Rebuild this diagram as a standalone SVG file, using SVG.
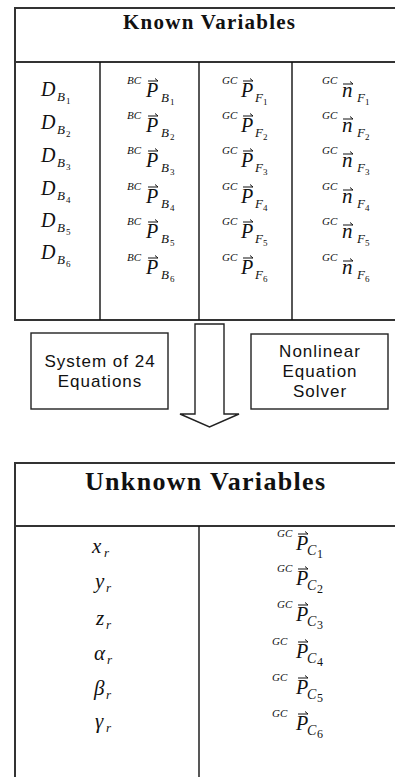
<svg xmlns="http://www.w3.org/2000/svg" xmlns:xlink="http://www.w3.org/1999/xlink" width="395" height="777" viewBox="0 0 395 777">
<style>
.frame{stroke:#333;stroke-width:2;fill:none}
.div{stroke:#111;stroke-width:1.4;fill:none}
.box{stroke:#222;stroke-width:1.4;fill:#fff}
.vec{stroke:#111;stroke-width:1;fill:none}
</style>
<defs>
<path id="vec" class="vec" d="M0,0 H10 M7,-2.5 L10,0"/>
</defs>
<rect x="0" y="0" width="395" height="777" fill="#fff"/>

<g id="known-table">
<path class="frame" d="M395,8 H15 V320 H395 M15,62 H395"/>
<path class="div" d="M100,62 V320 M199,62 V320 M292,62 V320"/>
<text x="123" y="29" font-family="'Liberation Serif', serif" font-weight="bold" font-size="21" fill="#111" textLength="172" lengthAdjust="spacing">Known Variables</text>
</g>

<g id="col-D">
<g transform="scale(0.5)" font-family="'Liberation Serif', serif" font-style="italic" fill="#111">
<g font-size="40"><text x="82" y="192">D</text><text x="82" y="258">D</text><text x="82" y="324">D</text><text x="82" y="390">D</text><text x="82" y="454">D</text><text x="82" y="518">D</text></g>
<g font-size="26"><text x="114" y="202">B</text><text x="114" y="268">B</text><text x="114" y="334">B</text><text x="114" y="400">B</text><text x="114" y="464">B</text><text x="114" y="528">B</text></g>
<g font-size="18" font-style="normal"><text x="132" y="208">1</text><text x="132" y="274">2</text><text x="132" y="340">3</text><text x="132" y="406">4</text><text x="132" y="470">5</text><text x="132" y="534">6</text></g>
</g>
</g>

<g id="col-PB">
<g transform="scale(0.5)" font-family="'Liberation Serif', serif" font-style="italic" fill="#111">
<g font-size="22"><text x="254" y="168">BC</text><text x="254" y="238">BC</text><text x="254" y="308">BC</text><text x="254" y="380">BC</text><text x="254" y="450">BC</text><text x="254" y="522">BC</text></g>
<g font-size="40"><text x="292" y="194">P</text><text x="292" y="264">P</text><text x="292" y="334">P</text><text x="292" y="406">P</text><text x="292" y="476">P</text><text x="292" y="548">P</text></g>
<g font-size="26"><text x="322" y="204">B</text><text x="322" y="274">B</text><text x="322" y="344">B</text><text x="322" y="416">B</text><text x="322" y="486">B</text><text x="322" y="558">B</text></g>
<g font-size="18" font-style="normal"><text x="340" y="210">1</text><text x="340" y="280">2</text><text x="340" y="350">3</text><text x="340" y="422">4</text><text x="340" y="492">5</text><text x="340" y="564">6</text></g>
</g>
<use xlink:href="#vec" x="148" y="81"/><use xlink:href="#vec" x="148" y="116"/><use xlink:href="#vec" x="148" y="151"/><use xlink:href="#vec" x="148" y="187"/><use xlink:href="#vec" x="148" y="222"/><use xlink:href="#vec" x="148" y="258"/>
</g>

<g id="col-PF">
<g transform="scale(0.5)" font-family="'Liberation Serif', serif" font-style="italic" fill="#111">
<g font-size="22"><text x="444" y="168">GC</text><text x="444" y="238">GC</text><text x="444" y="308">GC</text><text x="444" y="380">GC</text><text x="444" y="450">GC</text><text x="444" y="522">GC</text></g>
<g font-size="40"><text x="482" y="194">P</text><text x="482" y="264">P</text><text x="482" y="334">P</text><text x="482" y="406">P</text><text x="482" y="476">P</text><text x="482" y="548">P</text></g>
<g font-size="26"><text x="510" y="204">F</text><text x="510" y="274">F</text><text x="510" y="344">F</text><text x="510" y="416">F</text><text x="510" y="486">F</text><text x="510" y="558">F</text></g>
<g font-size="18" font-style="normal"><text x="526" y="210">1</text><text x="526" y="280">2</text><text x="526" y="350">3</text><text x="526" y="422">4</text><text x="526" y="492">5</text><text x="526" y="564">6</text></g>
</g>
<use xlink:href="#vec" x="243" y="81"/><use xlink:href="#vec" x="243" y="116"/><use xlink:href="#vec" x="243" y="151"/><use xlink:href="#vec" x="243" y="187"/><use xlink:href="#vec" x="243" y="222"/><use xlink:href="#vec" x="243" y="258"/>
</g>

<g id="col-nF">
<g transform="scale(0.5)" font-family="'Liberation Serif', serif" font-style="italic" fill="#111">
<g font-size="22"><text x="644" y="168">GC</text><text x="644" y="238">GC</text><text x="644" y="308">GC</text><text x="644" y="380">GC</text><text x="644" y="450">GC</text><text x="644" y="522">GC</text></g>
<g font-size="42"><text x="684" y="194">n</text><text x="684" y="264">n</text><text x="684" y="334">n</text><text x="684" y="406">n</text><text x="684" y="476">n</text><text x="684" y="548">n</text></g>
<g font-size="26"><text x="714" y="204">F</text><text x="714" y="274">F</text><text x="714" y="344">F</text><text x="714" y="416">F</text><text x="714" y="486">F</text><text x="714" y="558">F</text></g>
<g font-size="18" font-style="normal"><text x="730" y="210">1</text><text x="730" y="280">2</text><text x="730" y="350">3</text><text x="730" y="422">4</text><text x="730" y="492">5</text><text x="730" y="564">6</text></g>
</g>
<use xlink:href="#vec" x="343" y="84"/><use xlink:href="#vec" x="343" y="119"/><use xlink:href="#vec" x="343" y="154"/><use xlink:href="#vec" x="343" y="190"/><use xlink:href="#vec" x="343" y="225"/><use xlink:href="#vec" x="343" y="261"/>
</g>

<g id="system-box">
<rect class="box" x="31" y="333" width="137" height="76"/>
<g font-family="'Liberation Sans', Arial, sans-serif" font-size="17" letter-spacing="1" fill="#111" text-anchor="middle">
<text x="100" y="367">System of 24</text>
<text x="100" y="387">Equations</text>
</g>
</g>

<g id="solver-box">
<rect class="box" x="251" y="334" width="137" height="75"/>
<g font-family="'Liberation Sans', Arial, sans-serif" font-size="17" letter-spacing="1" fill="#111" text-anchor="middle">
<text x="320" y="357">Nonlinear</text>
<text x="320" y="377">Equation</text>
<text x="320" y="397">Solver</text>
</g>
</g>

<g id="connectors">
<path class="box" d="M195,324 H224 V414 H239 L209.5,427 L180,414 H195 Z"/>
</g>

<g id="unknown-table">
<path class="frame" d="M395,463 H15 V777 M15,526 H395"/>
<path class="div" d="M199,526 V777"/>
<text x="85" y="490" font-family="'Liberation Serif', serif" font-weight="bold" font-size="26" fill="#111" textLength="240" lengthAdjust="spacing">Unknown Variables</text>
</g>

<g id="col-pose">
<g transform="scale(0.5)" font-family="'Liberation Serif', serif" font-style="italic" fill="#111">
<g font-size="42"><text x="184" y="1106">x</text><text x="190" y="1176">y</text><text x="192" y="1250">z</text><text x="188" y="1320">α</text><text x="188" y="1390">β</text><text x="190" y="1456">γ</text></g>
<g font-size="26"><text x="208" y="1114">r</text><text x="212" y="1184">r</text><text x="212" y="1258">r</text><text x="214" y="1328">r</text><text x="212" y="1398">r</text><text x="212" y="1464">r</text></g>
</g>
</g>

<g id="col-PC">
<g transform="scale(0.5)" font-family="'Liberation Serif', serif" font-style="italic" fill="#111">
<g font-size="22"><text x="554" y="1074">GC</text><text x="554" y="1144">GC</text><text x="554" y="1216">GC</text><text x="544" y="1290">GC</text><text x="544" y="1362">GC</text><text x="544" y="1434">GC</text></g>
<g font-size="40"><text x="592" y="1100">P</text><text x="592" y="1170">P</text><text x="592" y="1242">P</text><text x="592" y="1316">P</text><text x="592" y="1388">P</text><text x="592" y="1460">P</text></g>
<g font-size="28"><text x="614" y="1110">C</text><text x="614" y="1180">C</text><text x="614" y="1252">C</text><text x="614" y="1326">C</text><text x="614" y="1398">C</text><text x="614" y="1470">C</text></g>
<g font-size="24" font-style="normal"><text x="634" y="1116">1</text><text x="634" y="1186">2</text><text x="634" y="1258">3</text><text x="634" y="1332">4</text><text x="634" y="1404">5</text><text x="634" y="1476">6</text></g>
</g>
<use xlink:href="#vec" x="298" y="534"/><use xlink:href="#vec" x="298" y="569"/><use xlink:href="#vec" x="298" y="605"/><use xlink:href="#vec" x="298" y="642"/><use xlink:href="#vec" x="298" y="678"/><use xlink:href="#vec" x="298" y="714"/>
</g>
</svg>
